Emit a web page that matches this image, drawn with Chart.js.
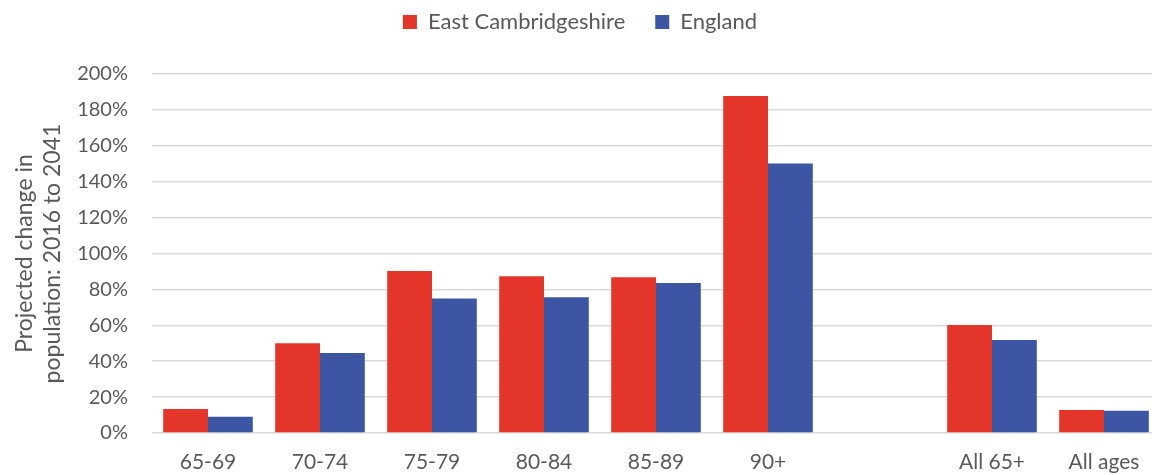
<!DOCTYPE html>
<html>
<head>
<meta charset="utf-8">
<script src="https://cdn.jsdelivr.net/npm/chart.js"></script>
<style>
  html, body { margin: 0; padding: 0; background: #fff; overflow: hidden; }
  #wrap { position: absolute; left: 0; top: 0; width: 1160px; height: 475px; }
</style>
</head>
<body>
<div id="wrap"><canvas id="popChart" width="1160" height="475"></canvas></div>
<script>
  // age bands (blank slot between 90+ and the totals, as in the original)
  const categories = ["65-69", "70-74", "75-79", "80-84", "85-89", "90+", "", "All 65+", "All ages"];
  const eastCambs = [13.4, 50.0, 90.2, 87.3, 86.8, 187.7, null, 60.2, 12.8];
  const england = [9.0, 44.5, 75.0, 75.6, 83.5, 150.2, null, 51.8, 12.4];
  const yTicks = [0, 20, 40, 60, 80, 100, 120, 140, 160, 180, 200];

  const grey = "#595959";
  const font = "Lato, 'Open Sans', sans-serif";

  // push the plot down below the legend
  const legendGap = {
    id: "legendGap",
    beforeInit(chart) {
      const fit = chart.legend.fit;
      chart.legend.fit = function () {
        fit.call(this);
        this.height += 31;
      };
    },
  };

  new Chart(document.getElementById("popChart"), {
    type: "bar",
    data: {
      labels: categories,
      datasets: [
        {
          label: "East Cambridgeshire",
          backgroundColor: "#e4352a",
          data: eastCambs,
          categoryPercentage: 0.8,
          barPercentage: 1.0,
        },
        {
          label: "England",
          backgroundColor: "#3c56a3",
          data: england,
          categoryPercentage: 0.8,
          barPercentage: 1.0,
        },
      ],
    },
    plugins: [legendGap],
    options: {
      responsive: false,
      animation: false,
      layout: { padding: { top: -19, left: 0, right: 0, bottom: 0 } },
      plugins: {
        tooltip: { enabled: false },
        legend: {
          position: "top",
          labels: {
            color: grey,
            font: { family: font, size: 22 },
            boxWidth: 14,
            boxHeight: 14,
            padding: 30,
          },
        },
      },
      scales: {
        x: {
          grid: { display: false, drawTicks: false },
          border: { display: false },
          ticks: { color: grey, font: { family: font, size: 21 }, padding: 17, maxRotation: 0 },
          afterFit: (axis) => { axis.height = 42; },
        },
        y: {
          min: 0,
          max: 200,
          afterBuildTicks: (axis) => { axis.ticks = yTicks.map((v) => ({ value: v })); },
          afterFit: (axis) => { axis.width = 152; },
          grid: { color: "#d9d9d9", lineWidth: 1.5, drawTicks: false },
          border: { display: false },
          ticks: {
            color: grey,
            font: { family: font, size: 20 },
            padding: 24,
            callback: (v) => v + "%",
          },
          title: {
            display: true,
            text: ["Projected change in", "population: 2016 to 2041"],
            color: grey,
            font: { family: font, size: 23 },
            padding: { top: 11, bottom: 0 },
          },
        },
      },
    },
  });
</script>
</body>
</html>
